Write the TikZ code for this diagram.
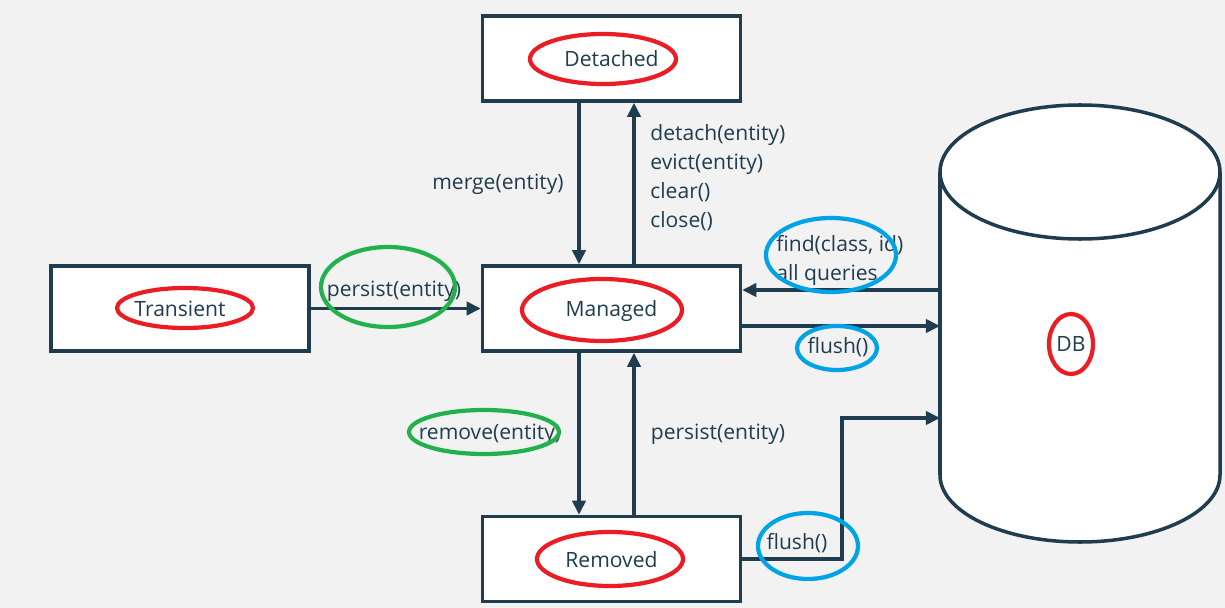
\documentclass[tikz,border=0pt]{standalone}
\usepackage{fontspec}
\setmainfont{Open Sans}
\usetikzlibrary{arrows.meta,calc}
\definecolor{navy}{HTML}{1F3D4F}
\definecolor{markred}{HTML}{EC1C24}
\definecolor{markgreen}{HTML}{22B14C}
\definecolor{markblue}{HTML}{00A2E8}
\definecolor{paper}{HTML}{F2F2F2}
\tikzstyle{state}=[draw=navy,fill=white,line width=2pt,minimum width=5.16cm,minimum height=1.7cm,inner sep=0pt,text depth=0pt,text=navy,font=\fontsize{12}{14}\selectfont]
\tikzstyle{link}=[draw=navy,line width=1.9pt,-{Triangle[length=8pt,width=7.5pt]}]
\tikzstyle{weight}=[text=navy,font=\fontsize{12}{16.5}\selectfont,inner sep=0pt]
\tikzstyle{ring}=[line width=2.4pt]

\begin{document}
\begin{tikzpicture}[x=0.02cm,y=-0.02cm]

\fill[paper] (0,0) rectangle (1225,608);
\useasboundingbox (0,0) rectangle (1225,608);

%States
    \foreach \pos/\name/\label in {{(611.5,58.5)/detached/Detached}, {(611.5,308.5)/managed/Managed}, {(180,308.5)/transient/Transient}, {(611.5,559)/removed/Removed}}
        \node[state] (\name) at \pos {\label};

%DB
\filldraw[navy,fill=white,line width=2pt] (940,172) -- (940,475) arc[start angle=180,end angle=0,x radius=140,y radius=67] -- (1220,172);
\filldraw[navy,fill=white,line width=2pt] (1080,172) ellipse[x radius=140,y radius=67];
\node[text=navy,font=\fontsize{12}{14}\selectfont] (db) at (1071,344) {DB};
\coordinate (dbfind) at (940,290);
\coordinate (dbflush) at (940,326);
\coordinate (bend) at (842,418);
\coordinate (dbin) at (940,418);

%Transitions
  \draw[link] ($(detached.south)+(-32.5,0)$) -- ($(managed.north)+(-32.5,0)$);
  \draw[link] ($(managed.north)+(22.5,0)$) -- ($(detached.south)+(22.5,0)$);
  \draw[link] ($(managed.south)+(-32.5,0)$) -- ($(removed.north)+(-32.5,0)$);
  \draw[link] ($(removed.north)+(22.5,0)$) -- ($(managed.south)+(22.5,0)$);
  \draw[link] (transient) -- (managed);
  \draw[link] (dbfind) -- (dbfind -| managed.east);
  \draw[link] (dbflush -| managed.east) -- (dbflush);
  \draw[link] (removed.east) -| (bend) -- (dbin);

%Labels
\node[weight] at (498,184) {merge(entity)};
\node[weight,align=left,anchor=north west] at (650,124) {detach(entity)\\evict(entity)\\clear()\\close()};
\node[weight] at (394,291) {persist(entity)};
\node[weight,align=left,anchor=north west] at (776,235) {find(class, id)\\all queries};
\node[weight] at (838,347) {flush()};
\node[weight] at (490,434) {remove(entity)};
\node[weight] at (718,434) {persist(entity)};
\node[weight] at (797,543) {flush()};

%Rings
\foreach \pos/\rx/\ry in {(603,59)/73/25, (602,310)/80/31, (185,308)/68/20, (610,559)/73/27, (1071,344)/22/30}
    \draw[ring,markred] \pos ellipse[x radius=\rx,y radius=\ry];
\foreach \pos/\rx/\ry in {(388,287)/67/40, (484,432)/75/22}
    \draw[ring,markgreen] \pos ellipse[x radius=\rx,y radius=\ry];
\foreach \pos/\rx/\ry in {(831,255)/65/37, (837,348)/40/22, (808,546)/50/33}
    \draw[ring,markblue] \pos ellipse[x radius=\rx,y radius=\ry];

\end{tikzpicture}
\end{document}
